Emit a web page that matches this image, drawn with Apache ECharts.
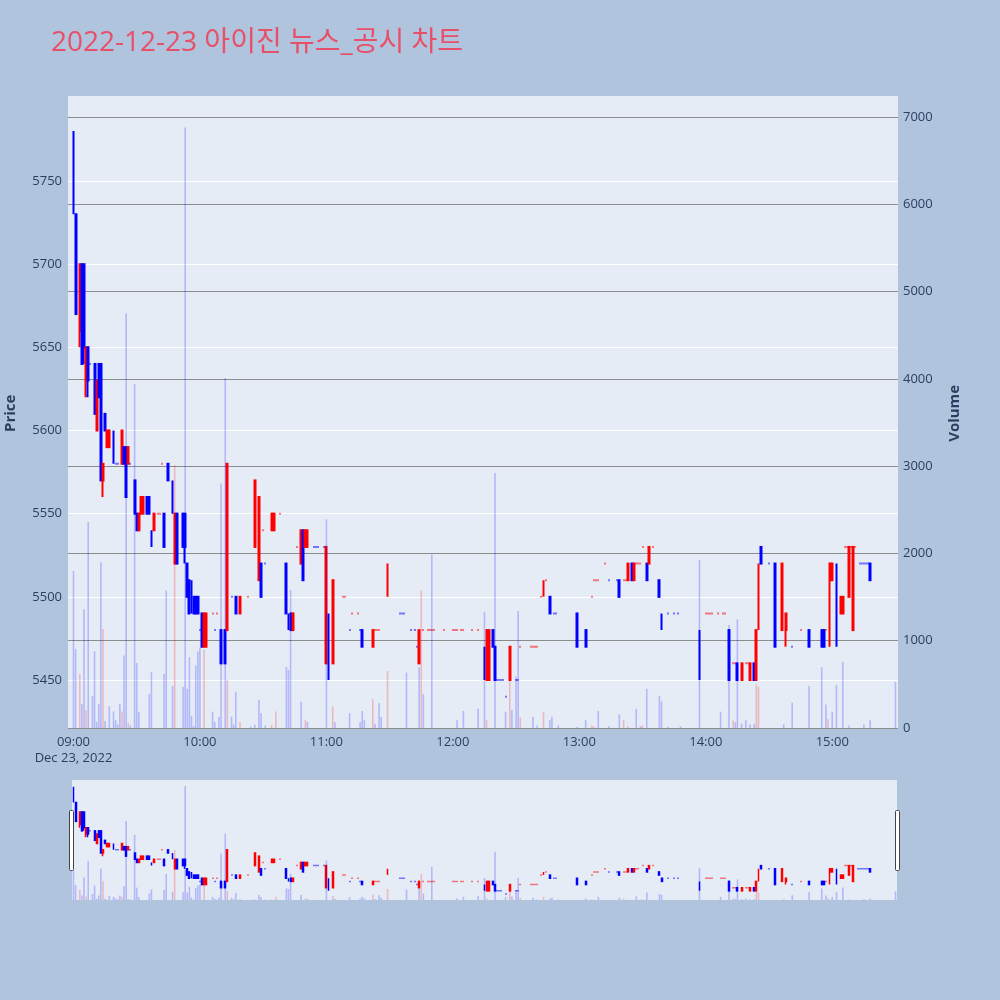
<!DOCTYPE html>
<html><head><meta charset="utf-8">
<script src="https://cdn.jsdelivr.net/npm/echarts@6/dist/echarts.min.js"></script>
<style>html,body{margin:0;padding:0;background:#b0c4de;}#chart{width:1000px;height:1000px;}</style>
</head><body><div id="chart"></div>
<script>
const titleText = '2022-12-23 아이진 뉴스_공시 차트';
const dateLabel = 'Dec 23, 2022';
const sessionStartHour = 9;
// [minute after 09:00, open, close, low, high, flat direction (1 up / 0 down) for open == close]
const candles = [
[0,5780,5730,5730,5780],[1,5730,5670,5670,5730],[3,5660,5700,5650,5700],[4,5700,5640,5640,5700],
[5,5700,5650,5640,5700],[6,5630,5650,5620,5650],[7,5650,5630,5620,5650],[8,5640,5640,5640,5640,0],
[10,5640,5610,5610,5640],[11,5600,5630,5600,5630],[12,5640,5620,5620,5640],[13,5640,5570,5570,5640],
[14,5570,5580,5560,5580],[15,5610,5600,5600,5610],[16,5590,5600,5590,5600],[17,5590,5600,5590,5600],
[19,5600,5580,5580,5600],[20,5580,5580,5580,5580,0],[21,5580,5580,5580,5580,0],[23,5580,5600,5580,5600],
[24,5590,5580,5580,5590],[25,5590,5560,5560,5590],[26,5580,5590,5580,5590],[27,5580,5580,5580,5580,0],
[28,5580,5580,5580,5580,0],[29,5570,5550,5550,5570],[30,5550,5540,5540,5550],[31,5540,5550,5540,5550],
[32,5550,5560,5550,5560],[33,5550,5560,5550,5560],[35,5560,5550,5550,5560],[36,5560,5550,5550,5560],
[37,5540,5530,5530,5540],[38,5540,5550,5540,5550],[40,5550,5550,5550,5550,1],[41,5550,5550,5550,5550,1],
[42,5580,5580,5580,5580,1],[43,5550,5530,5530,5550],[45,5580,5570,5570,5580],[47,5570,5550,5550,5570],
[48,5520,5550,5520,5550],[49,5550,5520,5520,5550],[52,5550,5530,5530,5550],[53,5550,5530,5520,5550],
[54,5520,5500,5500,5520],[55,5510,5490,5490,5510],[56,5510,5490,5490,5510],[57,5500,5490,5490,5500],
[58,5500,5490,5490,5500],[59,5500,5490,5490,5500],[60,5480,5480,5480,5480,0],[61,5490,5470,5470,5490],
[62,5470,5490,5470,5490],[63,5470,5490,5470,5490],[66,5490,5490,5490,5490,1],[67,5480,5480,5480,5480,0],
[68,5490,5490,5490,5490,1],[70,5480,5460,5460,5480],[72,5480,5460,5460,5480],[73,5480,5580,5480,5580],
[75,5500,5500,5500,5500,0],[77,5500,5490,5490,5500],[79,5490,5500,5490,5500],[83,5500,5500,5500,5500,1],
[84,5500,5500,5500,5500,1],[86,5530,5570,5530,5570],[88,5510,5560,5510,5560],[89,5520,5500,5500,5520],
[90,5540,5540,5540,5540,1],[91,5520,5520,5520,5520,0],[94,5540,5550,5540,5550],[95,5540,5550,5540,5550],
[98,5550,5550,5550,5550,1],[101,5520,5490,5490,5520],[102,5490,5480,5480,5490],[103,5490,5480,5480,5490],
[104,5480,5490,5480,5490],[106,5530,5530,5530,5530,1],[108,5520,5540,5520,5540],[109,5540,5510,5510,5540],
[110,5530,5540,5530,5540],[111,5530,5540,5530,5540],[114,5530,5530,5530,5530,0],[115,5530,5530,5530,5530,0],
[116,5530,5530,5530,5530,0],[119,5530,5530,5530,5530,0],[120,5460,5530,5460,5530],[121,5490,5450,5450,5490],
[123,5460,5510,5460,5510],[128,5500,5500,5500,5500,1],[129,5500,5500,5500,5500,1],[131,5480,5480,5480,5480,0],
[132,5490,5490,5490,5490,1],[135,5490,5490,5490,5490,1],[136,5480,5480,5480,5480,0],[137,5480,5470,5470,5480],
[142,5470,5480,5470,5480],[143,5480,5480,5480,5480,1],[144,5480,5480,5480,5480,1],[145,5480,5480,5480,5480,1],
[149,5500,5520,5500,5520],[155,5490,5490,5490,5490,0],[156,5490,5490,5490,5490,0],[157,5490,5490,5490,5490,0],
[158,5480,5480,5480,5480,0],[160,5480,5480,5480,5480,0],[162,5480,5480,5480,5480,0],[163,5470,5470,5470,5470,0],
[164,5460,5480,5460,5480],[166,5480,5480,5480,5480,1],[167,5480,5480,5480,5480,1],[168,5480,5480,5480,5480,1],
[169,5480,5480,5480,5480,1],[170,5480,5480,5480,5480,1],[171,5480,5480,5480,5480,1],[176,5480,5480,5480,5480,1],
[180,5480,5480,5480,5480,1],[181,5480,5480,5480,5480,1],[182,5480,5480,5480,5480,1],[184,5480,5480,5480,5480,1],
[185,5480,5480,5480,5480,1],[186,5480,5480,5480,5480,1],[189,5480,5480,5480,5480,1],[192,5480,5480,5480,5480,1],
[195,5470,5450,5450,5470],[196,5450,5480,5450,5480],[197,5450,5480,5450,5480],[199,5480,5470,5470,5480],
[200,5470,5450,5450,5470],[201,5450,5450,5450,5450,0],[202,5450,5450,5450,5450,0],[203,5450,5450,5450,5450,0],
[204,5450,5450,5450,5450,0],[205,5440,5440,5440,5440,0],[207,5450,5470,5450,5470],[210,5450,5450,5450,5450,0],
[211,5450,5450,5450,5450,0],[212,5470,5470,5470,5470,1],[217,5470,5470,5470,5470,1],[218,5470,5470,5470,5470,1],
[219,5470,5470,5470,5470,1],[220,5470,5470,5470,5470,1],[222,5500,5500,5500,5500,1],[223,5500,5510,5500,5510],
[224,5510,5510,5510,5510,1],[226,5500,5490,5490,5500],[228,5490,5490,5490,5490,0],[229,5490,5490,5490,5490,0],
[239,5490,5470,5470,5490],[243,5480,5470,5470,5480],[246,5500,5500,5500,5500,1],[247,5510,5510,5510,5510,1],
[248,5510,5510,5510,5510,1],[249,5510,5510,5510,5510,1],[251,5520,5520,5520,5520,1],[252,5520,5520,5520,5520,1],
[254,5510,5510,5510,5510,0],[258,5510,5510,5510,5510,0],[259,5510,5500,5500,5510],[261,5510,5510,5510,5510,1],
[262,5510,5510,5510,5510,1],[263,5510,5520,5510,5520],[265,5520,5510,5510,5520],[266,5510,5520,5510,5520],
[267,5520,5520,5520,5520,1],[268,5520,5520,5520,5520,1],[269,5520,5520,5520,5520,1],[270,5530,5530,5530,5530,1],
[272,5520,5510,5510,5520],[273,5520,5530,5520,5530],[275,5530,5530,5530,5530,1],[278,5510,5500,5500,5510],
[279,5490,5480,5480,5490],[282,5490,5490,5490,5490,0],[285,5490,5490,5490,5490,0],[287,5490,5490,5490,5490,0],
[288,5480,5480,5480,5480,0],[297,5480,5450,5450,5480],[300,5490,5490,5490,5490,1],[301,5490,5490,5490,5490,1],
[302,5490,5490,5490,5490,1],[303,5490,5490,5490,5490,1],[306,5490,5490,5490,5490,1],[307,5490,5490,5490,5490,1],
[308,5490,5490,5490,5490,1],[309,5490,5490,5490,5490,1],[311,5480,5450,5450,5480],[313,5460,5460,5460,5460,1],
[314,5460,5460,5460,5460,1],[315,5460,5450,5450,5460],[317,5450,5460,5450,5460],[319,5460,5460,5460,5460,1],
[320,5460,5460,5460,5460,1],[321,5450,5460,5450,5460],[323,5460,5450,5450,5460],[324,5450,5480,5450,5480],
[325,5480,5520,5480,5520],[326,5530,5520,5520,5530],[330,5520,5520,5520,5520,0],[333,5520,5470,5470,5520],
[336,5480,5520,5480,5520],[338,5480,5490,5470,5490],[341,5470,5470,5470,5470,0],[345,5480,5480,5480,5480,1],
[349,5480,5470,5470,5480],[355,5480,5470,5470,5480],[356,5480,5470,5470,5480],[357,5480,5480,5480,5480,1],
[359,5510,5520,5470,5520],[360,5510,5520,5510,5520],[362,5520,5470,5470,5520],[364,5490,5500,5490,5500],
[365,5490,5500,5490,5500],[366,5530,5530,5530,5530,1],[367,5530,5530,5530,5530,1],[368,5500,5530,5500,5530],
[369,5530,5530,5530,5530,1],[370,5480,5530,5480,5530],[371,5530,5530,5530,5530,1],[372,5520,5520,5520,5520,0],
[373,5520,5520,5520,5520,0],[374,5520,5520,5520,5520,0],[375,5520,5520,5520,5520,0],[376,5520,5520,5520,5520,0],
[377,5520,5520,5520,5520,0],[378,5520,5510,5510,5520],[390,5520,5520,5520,5520,1]
];
// [minute after 09:00, volume, direction (1 up / 0 down)]
const volumes = [
[0,1800,0],[1,905,0],[3,620,1],[4,275,0],[5,1360,0],[6,205,1],[7,2360,0],[9,370,0],[10,880,0],[11,70,0],
[12,275,0],[13,1900,0],[14,1135,1],[15,80,0],[17,250,0],[19,190,0],[20,90,0],[21,40,0],[22,275,0],[23,190,1],
[24,830,0],[25,4750,0],[26,60,1],[27,30,0],[29,3940,0],[30,745,0],[31,185,0],[36,390,0],[37,640,0],[43,620,0],
[44,1575,0],[47,480,0],[48,3010,1],[52,470,0],[53,6880,0],[54,450,0],[55,810,0],[56,140,0],[57,20,0],[58,715,0],
[59,875,0],[60,920,0],[62,895,1],[66,187,0],[67,70,0],[69,130,0],[70,2800,0],[72,4010,0],[73,550,1],[75,130,0],
[76,40,0],[77,415,0],[79,70,1],[84,20,0],[86,40,0],[88,320,0],[89,170,0],[91,30,0],[94,30,1],[96,190,1],
[101,700,0],[102,665,0],[103,1580,0],[108,300,0],[110,90,1],[111,70,0],[120,2390,0],[123,245,1],[124,70,0],
[131,170,0],[136,70,0],[137,195,0],[138,90,0],[142,330,1],[143,50,0],[145,283,0],[146,130,0],[149,655,1],
[158,635,0],[164,695,0],[165,1575,1],[166,390,0],[170,1990,0],[182,90,0],[185,195,0],[192,220,0],[195,1330,0],
[196,90,1],[200,2920,0],[205,187,0],[207,550,1],[208,206,0],[210,590,0],[211,1340,0],[212,122,1],[218,130,0],
[220,30,0],[223,187,1],[226,90,0],[227,130,0],[230,30,0],[239,15,0],[243,90,0],[246,30,1],[247,15,1],[249,195,0],
[254,20,0],[259,157,0],[261,90,1],[263,20,1],[267,218,0],[269,20,0],[270,30,1],[272,450,0],[278,367,0],[279,305,0],
[282,15,0],[288,20,0],[297,1925,0],[307,187,0],[311,1180,0],[313,90,1],[314,70,0],[315,1245,0],[317,50,0],
[319,90,0],[321,40,0],[323,50,0],[324,500,1],[325,470,1],[337,40,0],[341,290,0],[349,481,0],[355,695,0],
[357,270,0],[358,100,1],[360,187,0],[362,493,0],[365,756,0],[368,30,0],[375,40,0],[378,90,0],[390,527,0]
];
// main panel axis ranges (its plotting box starts slightly below the panel top)
const priceRange = [5421.14, 5799.5];
const volumeRange = [0, 7210];
// range-slider axis ranges (full panel)
const sliderPriceRange = [5421.1, 5801.1];
const sliderVolumeRange = [0, 7245];
const minuteRange = [-2.6, 391.2];
const sliderMinuteRange = [-0.7, 390.7];

const UP = '#ff0000', DOWN = '#0000ff';
const UP_VOL = 'rgba(255,0,0,0.22)', DOWN_VOL = 'rgba(0,0,255,0.22)';
const FONT = "'Open Sans', 'Noto Sans CJK KR', sans-serif";
const TICK = '#2a3f5f';
const TICK_SIZE = 13;
const PLOT_BG = '#e5ecf6';

function hhmm(m) {
  const h = sessionStartHour + Math.floor(m / 60), mm = m % 60;
  return (h < 10 ? '0' : '') + h + ':' + (mm < 10 ? '0' : '') + mm;
}
const candleData = candles.map(r => {
  const up = r[2] > r[1] ? true : r[2] < r[1] ? false : r[5] === 1;
  const c = up ? UP : DOWN;
  return { value: [r[0], r[1], r[2], r[3], r[4]],
    itemStyle: { color: c, color0: c, borderColor: c, borderColor0: c } };
});
const volumeData = volumes.map(r => ({ value: [r[0], r[1]], itemStyle: { color: r[2] ? UP_VOL : DOWN_VOL } }));

const chart = echarts.init(document.getElementById('chart'), null, { renderer: 'canvas' });
chart.setOption({
  animation: false,
  backgroundColor: '#b0c4de',
  textStyle: { fontFamily: FONT },
  title: { text: titleText, left: 46, top: 24,
    textStyle: { fontSize: 28, fontWeight: 'normal', color: '#e8506a', fontFamily: FONT } },
  grid: [
    { left: 68, top: 98.66, width: 830, height: 629.34, show: true, backgroundColor: PLOT_BG, borderWidth: 0,
      containLabel: false, outerBoundsMode: 'none' },
    { left: 72, top: 780, width: 825, height: 120, show: true, backgroundColor: PLOT_BG, borderWidth: 0,
      containLabel: false, outerBoundsMode: 'none' }
  ],
  xAxis: [
    { type: 'value', gridIndex: 0, min: minuteRange[0], max: minuteRange[1], minInterval: 60, maxInterval: 60,
      axisLine: { show: false }, axisTick: { show: false }, splitLine: { show: false },
      axisLabel: { color: TICK, fontSize: TICK_SIZE, margin: 6, lineHeight: 16, fontFamily: FONT,
        formatter: v => { const r = Math.round(v); if (Math.abs(v - r) > 1e-6 || r % 60 !== 0 || r < 0) return '';
          return r === 0 ? hhmm(r) + '\n' + dateLabel : hhmm(r); } } },
    { type: 'value', gridIndex: 1, min: sliderMinuteRange[0], max: sliderMinuteRange[1], show: false }
  ],
  yAxis: [
    { type: 'value', gridIndex: 0, position: 'left', min: priceRange[0], max: priceRange[1],
      minInterval: 50, maxInterval: 50,
      axisLine: { show: false }, axisTick: { show: false },
      splitLine: { show: true, showMinLine: false, showMaxLine: false, lineStyle: { color: '#ffffff', width: 1 } },
      axisLabel: { color: TICK, fontSize: TICK_SIZE, margin: 6, fontFamily: FONT,
        formatter: v => (Math.abs(v % 50) < 1e-6 ? String(v) : '') },
      name: 'Price', nameLocation: 'middle', nameGap: 50, nameRotate: 90,
      nameTextStyle: { color: TICK, fontSize: 15, fontWeight: 'bold', fontFamily: FONT } },
    { type: 'value', gridIndex: 0, position: 'right', min: volumeRange[0], max: volumeRange[1], interval: 1000,
      axisLine: { show: false }, axisTick: { show: false },
      splitLine: { show: true, showMinLine: true, showMaxLine: false, lineStyle: { color: '#8c8c8c', width: 1 } },
      axisLabel: { color: TICK, fontSize: TICK_SIZE, margin: 5, fontFamily: FONT,
        formatter: v => (Math.abs(v % 1000) < 1e-6 ? String(v) : '') },
      name: 'Volume', nameLocation: 'middle', nameGap: 49, nameRotate: 90,
      nameTextStyle: { color: TICK, fontSize: 15, fontWeight: 'bold', fontFamily: FONT } },
    { type: 'value', gridIndex: 1, min: sliderPriceRange[0], max: sliderPriceRange[1], show: false, splitLine: { show: false } },
    { type: 'value', gridIndex: 1, min: sliderVolumeRange[0], max: sliderVolumeRange[1], show: false, splitLine: { show: false } }
  ],
  series: [
    { type: 'candlestick', xAxisIndex: 0, yAxisIndex: 0, data: candleData, barWidth: 1.4, clip: true,
      encode: { x: 0, y: [1, 2, 3, 4] }, itemStyle: { borderWidth: 2 }, z: 2 },
    { type: 'bar', xAxisIndex: 0, yAxisIndex: 1, data: volumeData, barWidth: 1.6, z: 3 },
    { type: 'candlestick', xAxisIndex: 1, yAxisIndex: 2, data: candleData, barWidth: 1.4, clip: true,
      encode: { x: 0, y: [1, 2, 3, 4] }, itemStyle: { borderWidth: 1.5 }, z: 2 },
    { type: 'bar', xAxisIndex: 1, yAxisIndex: 3, data: volumeData, barWidth: 1.6, z: 3 }
  ],
  graphic: [
    { type: 'rect', left: 68, top: 96, shape: { width: 830, height: 3 }, silent: true,
      style: { fill: PLOT_BG }, z: 0 },
    { type: 'rect', left: 69, top: 810, shape: { width: 4, height: 60, r: 1 },
      style: { fill: '#ffffff', stroke: '#444444', lineWidth: 1 }, z: 10 },
    { type: 'rect', left: 895, top: 810, shape: { width: 4, height: 60, r: 1 },
      style: { fill: '#ffffff', stroke: '#444444', lineWidth: 1 }, z: 10 }
  ]
});
</script></body></html>
